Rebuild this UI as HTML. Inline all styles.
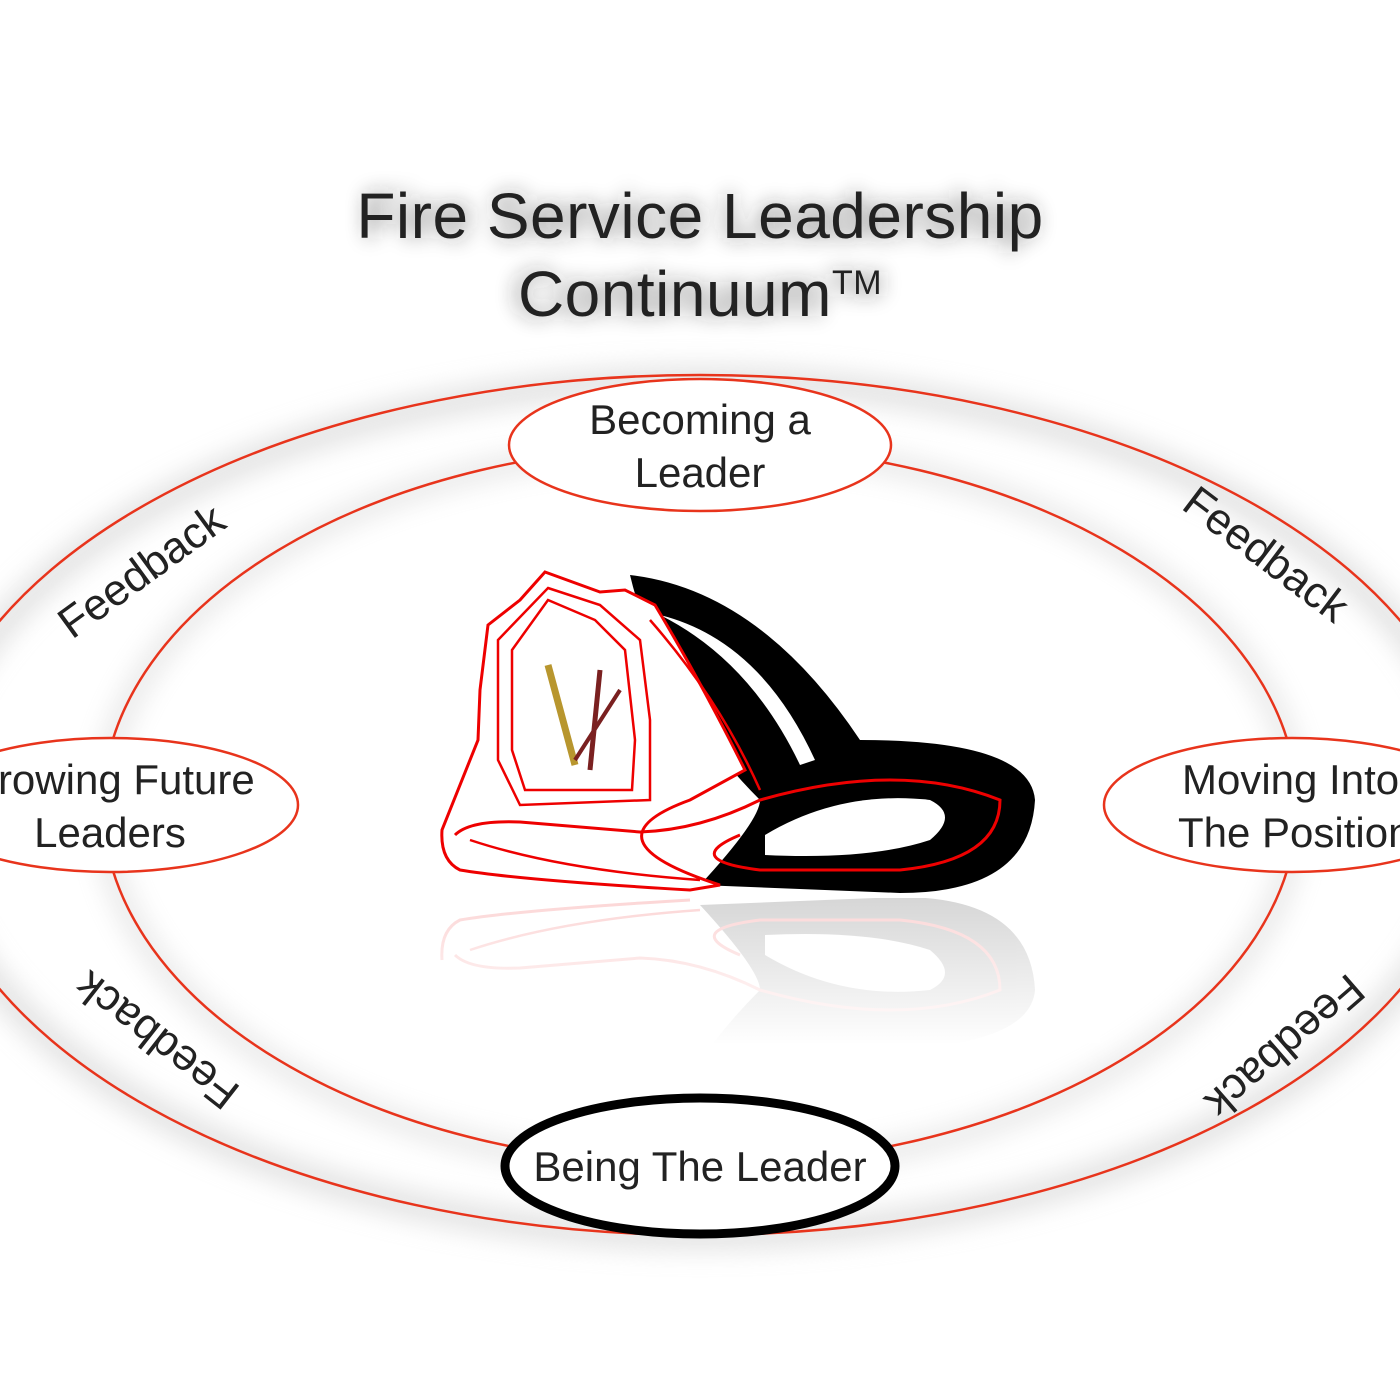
<!DOCTYPE html>
<html><head><style>
body{margin:0;background:#fff;}
svg{display:block}
text{font-family:"Liberation Sans",sans-serif;fill:#222}
</style></head><body>
<svg width="1400" height="1400" viewBox="0 0 1400 1400">
<defs>
<filter id="sh" x="-20%" y="-40%" width="140%" height="180%"><feGaussianBlur stdDeviation="12"/></filter>
<filter id="ts" x="-20%" y="-50%" width="140%" height="200%"><feGaussianBlur stdDeviation="10"/></filter>
<linearGradient id="fade" x1="0" y1="0" x2="0" y2="1"><stop offset="0" stop-color="#fff" stop-opacity="0.2"/><stop offset="1" stop-color="#fff" stop-opacity="1"/></linearGradient>
<clipPath id="rc"><rect x="400" y="898" width="700" height="145"/></clipPath>
</defs>
<rect width="1400" height="1400" fill="#fff"/>
<!-- shadows -->
<ellipse cx="700" cy="808" rx="772" ry="428" fill="none" stroke="#ccc" stroke-width="30" filter="url(#sh)" opacity="0.5"/>
<ellipse cx="700" cy="808" rx="597" ry="362" fill="none" stroke="#ccc" stroke-width="24" filter="url(#sh)" opacity="0.4"/>
<text x="700" y="238" font-size="64" text-anchor="middle" fill="#aaa" filter="url(#ts)" opacity="0.6">Fire Service Leadership</text>
<text x="700" y="316" font-size="64" text-anchor="middle" fill="#aaa" filter="url(#ts)" opacity="0.6">Continuum™</text>
<!-- rings -->
<ellipse cx="700" cy="805" rx="775" ry="430" fill="none" stroke="#e8341c" stroke-width="2.5"/>
<ellipse cx="700" cy="805" rx="597" ry="360" fill="none" stroke="#e8341c" stroke-width="2.5"/>
<!-- title -->
<text x="700" y="238" font-size="64" text-anchor="middle" letter-spacing="0.5">Fire Service Leadership</text>
<text x="700" y="316" font-size="64" text-anchor="middle" letter-spacing="0.5">Continuum<tspan font-size="34" dy="-22">TM</tspan></text>
<!-- helmet reflection -->
<g clip-path="url(#rc)">
<g opacity="0.2" transform="translate(0,1790) scale(1,-1)">
<path d="M630,575 Q760,590 860,740 Q1030,740 1035,800 Q1030,893 900,893 L700,885 Q760,820 760,800 Q660,700 630,575 Z" fill="#000"/>
<path d="M765,835 Q840,790 930,800 Q960,815 930,840 Q870,860 765,855 Z" fill="#fff"/>
<path d="M455,835 Q470,820 520,822 L640,832 Q700,830 760,800 Q900,760 1000,800 Q1000,860 900,870 L760,870 Q680,860 740,835" fill="none" stroke="#e00" stroke-width="3"/>
<path d="M470,840 Q560,870 700,880" fill="none" stroke="#e00" stroke-width="2.5"/>
<path d="M442,830 Q440,860 460,870 Q520,880 690,890" fill="none" stroke="#e00" stroke-width="3"/>
</g>
<rect x="400" y="895" width="700" height="150" fill="url(#fade)"/>
</g>
<!-- helmet -->
<path d="M630,575 Q760,590 860,740 Q1030,740 1035,800 Q1030,893 900,893 L700,885 Q760,820 760,800 Q660,700 630,575 Z" fill="#000"/>
<path d="M765,835 Q840,790 930,800 Q960,815 930,840 Q870,860 765,855 Z" fill="#fff"/>
<path d="M660,615 Q760,640 815,760 L800,765 Q750,660 660,615 Z" fill="#fff"/>
<path d="M545,572 L600,592 L625,590 L655,605 Q700,680 745,770 L690,800 Q580,840 720,885 L690,890 Q520,880 460,870 Q440,860 442,830 L478,740 L480,690 L488,625 L520,600 Z" fill="#fff" stroke="#e00" stroke-width="3"/>
<path d="M548,588 L600,605 L640,640 L650,720 L650,800 L520,805 L498,760 L498,640 Z" fill="none" stroke="#e00" stroke-width="2.5"/>
<path d="M548,600 L595,620 L625,650 L635,740 L632,790 L525,790 L512,750 L512,650 Z" fill="none" stroke="#e00" stroke-width="2.5"/>
<path d="M455,835 Q470,820 520,822 L640,832 Q700,830 760,800 Q900,760 1000,800 Q1000,860 900,870 L760,870 Q680,860 740,835" fill="none" stroke="#e00" stroke-width="3"/>
<path d="M470,840 Q560,870 700,880" fill="none" stroke="#e00" stroke-width="2.5"/>
<path d="M650,620 Q720,700 760,790" fill="none" stroke="#e00" stroke-width="2.5"/>
<line x1="548" y1="665" x2="575" y2="765" stroke="#b8962e" stroke-width="7"/>
<line x1="600" y1="670" x2="590" y2="770" stroke="#7a2020" stroke-width="5"/>
<line x1="620" y1="690" x2="575" y2="760" stroke="#7a2020" stroke-width="4"/>
<!-- nodes -->
<ellipse cx="700" cy="445" rx="191" ry="66" fill="#fff" stroke="#e8341c" stroke-width="2.5"/>
<text x="700" y="434" font-size="42" text-anchor="middle">Becoming a</text>
<text x="700" y="487" font-size="42" text-anchor="middle">Leader</text>
<ellipse cx="110" cy="805" rx="188" ry="67" fill="#fff" stroke="#e8341c" stroke-width="2.5"/>
<text x="110" y="794" font-size="42" text-anchor="middle">Growing Future</text>
<text x="110" y="847" font-size="42" text-anchor="middle">Leaders</text>
<ellipse cx="1292" cy="805" rx="188" ry="67" fill="#fff" stroke="#e8341c" stroke-width="2.5"/>
<text x="1182" y="794" font-size="42">Moving Into</text>
<text x="1178" y="847" font-size="42">The Position</text>
<ellipse cx="700" cy="1166" rx="195" ry="68" fill="#fff" stroke="#000" stroke-width="9"/>
<text x="700" y="1181" font-size="42" text-anchor="middle">Being The Leader</text>
<!-- feedback -->
<text font-size="44" transform="translate(72,640) rotate(-36)">Feedback</text>
<text font-size="44" transform="translate(1180,508) rotate(37)">Feedback</text>
<text font-size="44" transform="translate(242,1088) rotate(-142)">Feedback</text>
<text font-size="44" transform="translate(1348,972) rotate(139)">Feedback</text>
</svg>
</body></html>
